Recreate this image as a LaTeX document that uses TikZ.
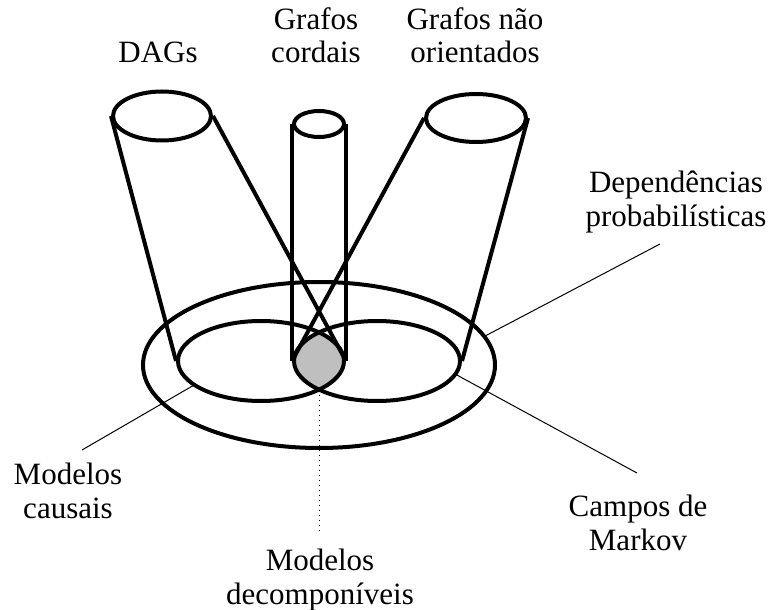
\documentclass[tikz,border=0pt]{standalone}
\usepackage{fontspec}
\setmainfont{Liberation Serif}
\usetikzlibrary{shapes.geometric}

\begin{document}
\begin{tikzpicture}[
    x=0.5pt, y=-0.5pt,
    ring/.style={ellipse, draw, line width=2pt, inner sep=0pt},
    side/.style={line width=2pt},
    lead/.style={line width=0.5pt},
    tag/.style={font=\fontsize{15.5}{17}\selectfont, align=center, anchor=base}
  ]
  \useasboundingbox (0, 0) rectangle (772, 610);

  % shaded intersection of the two inner rings
  \begin{scope}
    \clip (261, 361) ellipse [x radius=83, y radius=40];
    \fill [black!25] (377, 361) ellipse [x radius=83, y radius=40];
  \end{scope}

  % rings
  \node [ring, minimum width=176pt, minimum height=83pt] (prob) at (319, 365) {};
  \node [ring, minimum width=83pt, minimum height=40pt] (causal) at (261, 361) {};
  \node [ring, minimum width=83pt, minimum height=40pt] (markov) at (377, 361) {};

  % tops of the cones
  \node [ring, minimum width=49pt, minimum height=24.5pt] (dag) at (162, 116) {};
  \node [ring, minimum width=25pt, minimum height=13pt] (chordal) at (319, 124) {};
  \node [ring, minimum width=50pt, minimum height=24pt] (undir) at (476, 118) {};

  % sides of the cones
  \draw [side] (dag.west) -- (causal.west);
  \draw [side] (dag.east) -- (causal.east);
  \draw [side] (chordal.west) -- (markov.west);
  \draw [side] (chordal.east) -- (causal.east);
  \draw [side] (undir.west) -- (markov.west);
  \draw [side] (undir.east) -- (markov.east);

  % labels on top
  \node [tag] (daglabel) at (158, 63) {DAGs};
  \node [tag] (chordallabel) at (316, 63) {Grafos\\cordais};
  \node [tag] (undirlabel) at (475, 63) {Grafos não\\orientados};

  % labels below
  \node [tag] (problabel) at (676, 227) {Dependências\\probabilísticas};
  \node [tag] (causallabel) at (68, 518) {Modelos\\causais};
  \node [tag] (markovlabel) at (638, 550) {Campos de\\Markov};
  \node [tag] (decomplabel) at (320, 604) {Modelos\\decomponíveis};

  % leader lines
  \coordinate (probend) at (660, 244);
  \coordinate (causalend) at (82, 450);
  \coordinate (markovend) at (637, 473);
  \coordinate (lensbot) at (319, 389.6);
  \coordinate (decompend) at (319, 530);
  \draw [lead] (prob.10) -- (probend);
  \draw [lead] (causal.200) -- (causalend);
  \draw [lead] (markov.-10) -- (markovend);
  \draw [lead, dotted] (lensbot) -- (decompend);
\end{tikzpicture}
\end{document}
